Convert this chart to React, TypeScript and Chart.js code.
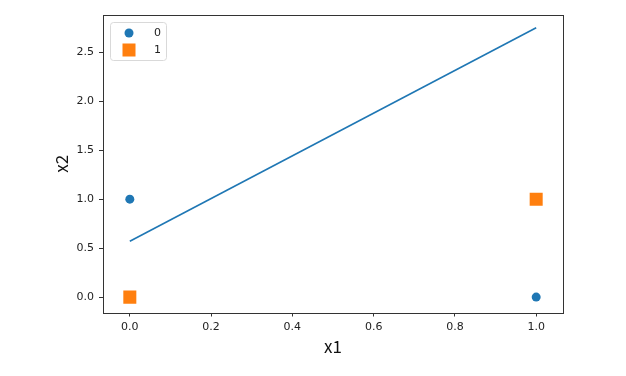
import React, { useEffect, useRef } from "react";
import { Chart, registerables } from "chart.js";

Chart.register(...registerables);

// ---- data ----
const class0X = [0, 1];
const class0Y = [1, 0];
const class1X = [0, 1];
const class1Y = [0, 1];
const lineX = [0, 1];
const lineY = [0.57, 2.75];
const xTicks = [0, 0.2, 0.4, 0.6, 0.8, 1.0];
const yTicks = [0, 0.5, 1.0, 1.5, 2.0, 2.5];
const legendLabels = ["0", "1"];
const xTitle = "x1";
const yTitle = "x2";

const BLUE = "#1f77b4";
const ORANGE = "#ff7f0e";
const FONT = "'Noto Sans CJK SC', 'DejaVu Sans', sans-serif";
const TICK_FONT = "'DejaVu Sans', sans-serif";

const framePlugin = {
  id: "frame",
  afterDatasetsDraw(chart: any) {
    const { ctx, chartArea } = chart;
    ctx.save();
    ctx.strokeStyle = "#333";
    ctx.lineWidth = 1;
    ctx.strokeRect(
      Math.round(chartArea.left) + 0.5,
      Math.round(chartArea.top) + 0.5,
      Math.round(chartArea.right - chartArea.left),
      Math.round(chartArea.bottom - chartArea.top)
    );
    ctx.restore();
  },
};

const legendPlugin = {
  id: "mplLegend",
  afterDraw(chart: any) {
    const { ctx, chartArea } = chart;
    const x0 = chartArea.left + 7;
    const y0 = chartArea.top + 7;
    const w = 56;
    const h = 38;
    ctx.save();
    ctx.fillStyle = "rgba(255,255,255,0.8)";
    ctx.strokeStyle = "#d9d9d9";
    ctx.lineWidth = 1;
    ctx.beginPath();
    const r = 3;
    const L = x0 + 0.5, T = y0 + 0.5, R = x0 + w + 0.5, B = y0 + h + 0.5;
    ctx.moveTo(L + r, T);
    ctx.lineTo(R - r, T);
    ctx.quadraticCurveTo(R, T, R, T + r);
    ctx.lineTo(R, B - r);
    ctx.quadraticCurveTo(R, B, R - r, B);
    ctx.lineTo(L + r, B);
    ctx.quadraticCurveTo(L, B, L, B - r);
    ctx.lineTo(L, T + r);
    ctx.quadraticCurveTo(L, T, L + r, T);
    ctx.closePath();
    ctx.fill();
    ctx.stroke();

    const mx = x0 + 19;
    const ty = [y0 + 11, y0 + 28];
    ctx.fillStyle = BLUE;
    ctx.beginPath();
    ctx.arc(mx, ty[0], 4.5, 0, Math.PI * 2);
    ctx.fill();
    ctx.fillStyle = ORANGE;
    ctx.fillRect(mx - 6.5, ty[1] - 6.5, 13, 13);

    ctx.fillStyle = "#222";
    ctx.font = `11px ${TICK_FONT}`;
    ctx.textBaseline = "middle";
    ctx.textAlign = "left";
    ctx.fillText(legendLabels[0], x0 + 44, ty[0]);
    ctx.fillText(legendLabels[1], x0 + 44, ty[1]);
    ctx.restore();
  },
};

export default function App() {
  const ref = useRef<HTMLCanvasElement>(null);

  useEffect(() => {
    if (!ref.current) return;
    const chart = new Chart(ref.current, {
      type: "scatter",
      data: {
        datasets: [
          {
            label: legendLabels[0],
            data: class0X.map((x, i) => ({ x, y: class0Y[i] })),
            backgroundColor: BLUE,
            borderColor: BLUE,
            pointStyle: "circle",
            pointRadius: 4.5,
            borderWidth: 0,
          },
          {
            label: legendLabels[1],
            data: class1X.map((x, i) => ({ x, y: class1Y[i] })),
            backgroundColor: ORANGE,
            borderColor: ORANGE,
            pointStyle: "rect",
            pointRadius: 9.2,
            borderWidth: 0,
          },
          {
            type: "line",
            label: "line",
            data: lineX.map((x, i) => ({ x, y: lineY[i] })),
            borderColor: BLUE,
            borderWidth: 1.6,
            pointRadius: 0,
            showLine: true,
            fill: false,
          } as any,
        ],
      },
      options: {
        animation: false,
        responsive: true,
        maintainAspectRatio: false,
        layout: { padding: { left: 0, top: 15, right: 63, bottom: 0 } },
        plugins: { legend: { display: false }, tooltip: { enabled: false } },
        scales: {
          x: {
            type: "linear",
            min: -0.066,
            max: 1.066,
            afterBuildTicks: (s: any) => {
              s.ticks = xTicks.map((v) => ({ value: v }));
            },
            afterFit: (s: any) => {
              s.height = 376 - 312.5;
            },
            grid: {
              drawOnChartArea: false,
              drawTicks: true,
              tickLength: 4,
              tickColor: "#333",
            },
            border: { display: false },
            ticks: {
              color: "#222",
              font: { family: TICK_FONT, size: 11 },
              padding: 4,
              maxRotation: 0,
              autoSkip: false,
              callback: (v: any) => Number(v).toFixed(1),
            },
            title: {
              display: true,
              text: xTitle,
              color: "#111",
              font: { family: FONT, size: 17 },
              padding: { top: 0, bottom: 19 },
            },
          },
          y: {
            type: "linear",
            min: -0.157,
            max: 2.88,
            afterBuildTicks: (s: any) => {
              s.ticks = yTicks.map((v) => ({ value: v }));
            },
            afterFit: (s: any) => {
              s.width = 103;
            },
            grid: {
              drawOnChartArea: false,
              drawTicks: true,
              tickLength: 4,
              tickColor: "#333",
            },
            border: { display: false },
            ticks: {
              color: "#222",
              font: { family: TICK_FONT, size: 11 },
              padding: 5,
              autoSkip: false,
              callback: (v: any) => Number(v).toFixed(1),
            },
            title: {
              display: true,
              text: yTitle,
              color: "#111",
              font: { family: FONT, size: 17 },
              padding: { top: 51, bottom: 0 },
            },
          },
        },
      },
      plugins: [framePlugin, legendPlugin],
    });
    return () => chart.destroy();
  }, []);

  return (
    <div style={{ position: "fixed", left: 0, top: 0, width: 626, height: 376, background: "#fff" }}>
      <canvas ref={ref} />
    </div>
  );
}
